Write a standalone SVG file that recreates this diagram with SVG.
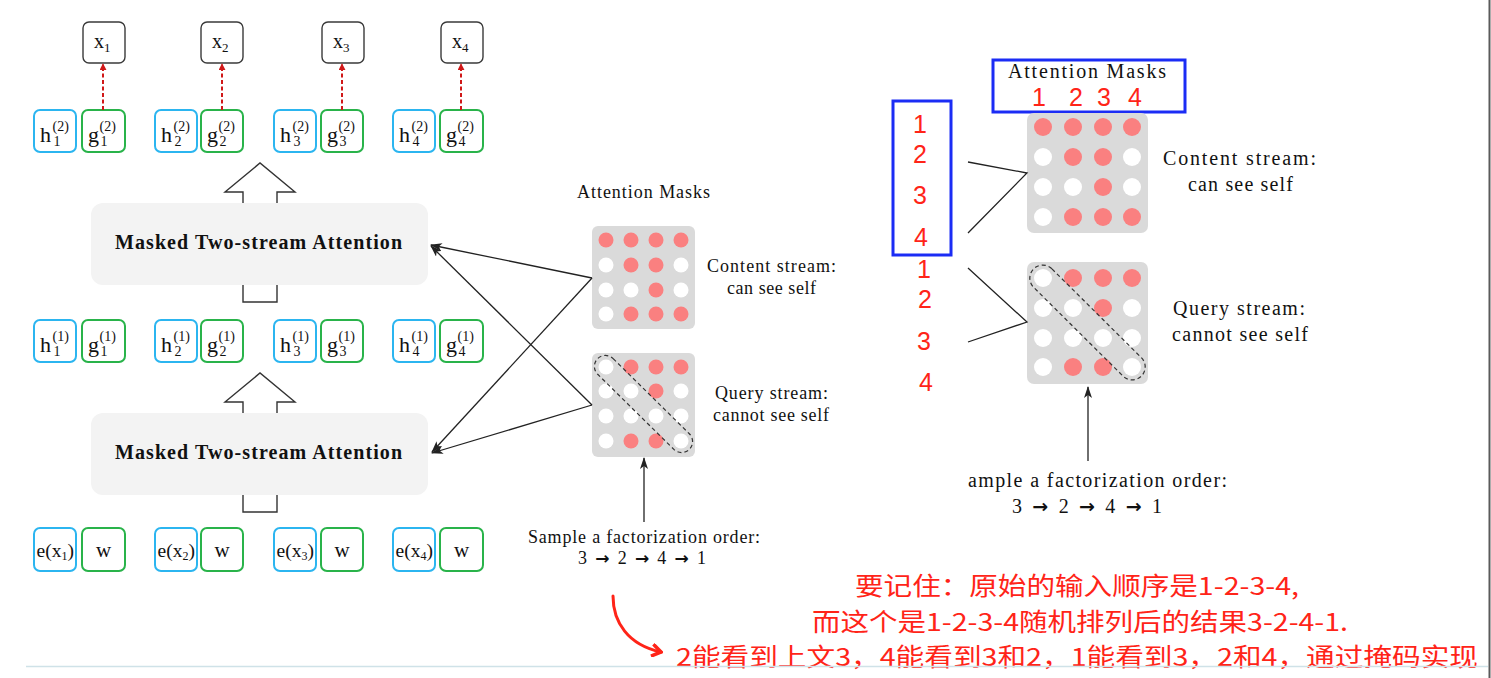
<svg xmlns="http://www.w3.org/2000/svg" width="1491" height="678" viewBox="0 0 1491 678">
<defs>
<style>
.bx{fill:#fff;stroke:#3a3a3a;stroke-width:1.4}
.hb{fill:#fff;stroke:#2bb5f0;stroke-width:2}
.gb{fill:#fff;stroke:#29b34a;stroke-width:2}
.m{font-family:"Liberation Serif",serif;fill:#111}
.att{fill:#f3f3f3}
.blk{fill:#fff;stroke:#333;stroke-width:1.4}
.mat{fill:#dadada}
.p{fill:#fa8080}
.w{fill:#fff}
.cap{fill:none;stroke:#333;stroke-width:1.2;stroke-dasharray:4 3}
.ln{fill:none;stroke:#222;stroke-width:1.3}
.rd{font-family:"Liberation Sans",Arial,sans-serif;fill:#ff2418;font-size:25px}
.cn{font-family:"Noto Sans CJK SC","Noto Sans",sans-serif;fill:#ff2418;font-size:24.5px}
.blue{fill:none;stroke:#1b2cf5;stroke-width:3}
.ar{font-family:"DejaVu Sans",sans-serif;font-weight:bold}
</style>
<marker id="ah" viewBox="0 0 12 8" refX="11" refY="4" markerWidth="12" markerHeight="8" markerUnits="userSpaceOnUse" orient="auto">
<path d="M0,0 L12,4 L0,8 L3,4 Z" fill="#222"/>
</marker>
<marker id="rah" viewBox="0 0 12 14" refX="10" refY="7" markerWidth="12" markerHeight="14" markerUnits="userSpaceOnUse" orient="auto">
<path d="M1,1 L10,7 L1,13" fill="none" stroke="#ff2418" stroke-width="3.5" stroke-linejoin="miter"/>
</marker>
<marker id="dah" viewBox="0 0 8 8" refX="7" refY="4" markerWidth="7" markerHeight="7" markerUnits="userSpaceOnUse" orient="auto">
<path d="M0,0 L8,4 L0,8 Z" fill="#d01818"/>
</marker>
</defs>
<rect width="1491" height="678" fill="#fff"/>

<!-- output tokens -->
<g id="x1"><rect class="bx" x="83" y="22" width="42" height="41" rx="6"/><text class="m" x="94" y="48" font-size="20">x<tspan font-size="13" dy="4">1</tspan></text></g>
<g id="x2"><rect class="bx" x="201" y="22" width="42" height="41" rx="6"/><text class="m" x="212" y="48" font-size="20">x<tspan font-size="13" dy="4">2</tspan></text></g>
<g id="x3"><rect class="bx" x="322" y="22" width="42" height="41" rx="6"/><text class="m" x="333" y="48" font-size="20">x<tspan font-size="13" dy="4">3</tspan></text></g>
<g id="x4"><rect class="bx" x="441" y="22" width="42" height="41" rx="6"/><text class="m" x="452" y="48" font-size="20">x<tspan font-size="13" dy="4">4</tspan></text></g>

<!-- layer 2 -->
<g id="h2_1"><rect class="hb" x="34" y="110" width="42" height="42" rx="6"/><text class="m" x="40" y="142" font-size="22">h</text><text class="m" x="52.5" y="131" font-size="14">(2)</text><text class="m" x="53.5" y="146" font-size="14">1</text></g>
<g id="g2_1"><rect class="gb" x="82" y="110" width="43" height="42" rx="6"/><text class="m" x="88" y="142" font-size="22">g</text><text class="m" x="99.5" y="131" font-size="14">(2)</text><text class="m" x="100.5" y="146" font-size="14">1</text></g>
<g id="h2_2"><rect class="hb" x="155" y="110" width="42" height="42" rx="6"/><text class="m" x="161" y="142" font-size="22">h</text><text class="m" x="173.5" y="131" font-size="14">(2)</text><text class="m" x="174.5" y="146" font-size="14">2</text></g>
<g id="g2_2"><rect class="gb" x="201" y="110" width="42" height="42" rx="6"/><text class="m" x="207" y="142" font-size="22">g</text><text class="m" x="218.5" y="131" font-size="14">(2)</text><text class="m" x="219.5" y="146" font-size="14">2</text></g>
<g id="h2_3"><rect class="hb" x="274" y="110" width="42" height="42" rx="6"/><text class="m" x="280" y="142" font-size="22">h</text><text class="m" x="292.5" y="131" font-size="14">(2)</text><text class="m" x="293.5" y="146" font-size="14">3</text></g>
<g id="g2_3"><rect class="gb" x="321" y="110" width="42" height="42" rx="6"/><text class="m" x="327" y="142" font-size="22">g</text><text class="m" x="338.5" y="131" font-size="14">(2)</text><text class="m" x="339.5" y="146" font-size="14">3</text></g>
<g id="h2_4"><rect class="hb" x="393" y="110" width="42" height="42" rx="6"/><text class="m" x="399" y="142" font-size="22">h</text><text class="m" x="411.5" y="131" font-size="14">(2)</text><text class="m" x="412.5" y="146" font-size="14">4</text></g>
<g id="g2_4"><rect class="gb" x="440" y="110" width="43" height="42" rx="6"/><text class="m" x="446" y="142" font-size="22">g</text><text class="m" x="457.5" y="131" font-size="14">(2)</text><text class="m" x="458.5" y="146" font-size="14">4</text></g>

<!-- layer 1 -->
<g id="h1_1"><rect class="hb" x="34" y="320" width="42" height="42" rx="6"/><text class="m" x="40" y="352" font-size="22">h</text><text class="m" x="52.5" y="341" font-size="14">(1)</text><text class="m" x="53.5" y="356" font-size="14">1</text></g>
<g id="g1_1"><rect class="gb" x="82" y="320" width="43" height="42" rx="6"/><text class="m" x="88" y="352" font-size="22">g</text><text class="m" x="99.5" y="341" font-size="14">(1)</text><text class="m" x="100.5" y="356" font-size="14">1</text></g>
<g id="h1_2"><rect class="hb" x="155" y="320" width="42" height="42" rx="6"/><text class="m" x="161" y="352" font-size="22">h</text><text class="m" x="173.5" y="341" font-size="14">(1)</text><text class="m" x="174.5" y="356" font-size="14">2</text></g>
<g id="g1_2"><rect class="gb" x="201" y="320" width="42" height="42" rx="6"/><text class="m" x="207" y="352" font-size="22">g</text><text class="m" x="218.5" y="341" font-size="14">(1)</text><text class="m" x="219.5" y="356" font-size="14">2</text></g>
<g id="h1_3"><rect class="hb" x="274" y="320" width="42" height="42" rx="6"/><text class="m" x="280" y="352" font-size="22">h</text><text class="m" x="292.5" y="341" font-size="14">(1)</text><text class="m" x="293.5" y="356" font-size="14">3</text></g>
<g id="g1_3"><rect class="gb" x="321" y="320" width="42" height="42" rx="6"/><text class="m" x="327" y="352" font-size="22">g</text><text class="m" x="338.5" y="341" font-size="14">(1)</text><text class="m" x="339.5" y="356" font-size="14">3</text></g>
<g id="h1_4"><rect class="hb" x="393" y="320" width="42" height="42" rx="6"/><text class="m" x="399" y="352" font-size="22">h</text><text class="m" x="411.5" y="341" font-size="14">(1)</text><text class="m" x="412.5" y="356" font-size="14">4</text></g>
<g id="g1_4"><rect class="gb" x="440" y="320" width="43" height="42" rx="6"/><text class="m" x="446" y="352" font-size="22">g</text><text class="m" x="457.5" y="341" font-size="14">(1)</text><text class="m" x="458.5" y="356" font-size="14">4</text></g>

<!-- input layer -->
<g id="e1"><rect class="hb" x="34" y="528" width="42" height="43" rx="6"/><text class="m" x="36.5" y="557" font-size="19.5">e(x<tspan font-size="12" dy="3">1</tspan><tspan dy="-3">)</tspan></text></g>
<g id="w1"><rect class="gb" x="82" y="528" width="43" height="43" rx="6"/><text class="m" x="103.5" y="557" font-size="21" text-anchor="middle">w</text></g>
<g id="e2"><rect class="hb" x="155" y="528" width="42" height="43" rx="6"/><text class="m" x="157.5" y="557" font-size="19.5">e(x<tspan font-size="12" dy="3">2</tspan><tspan dy="-3">)</tspan></text></g>
<g id="w2"><rect class="gb" x="201" y="528" width="42" height="43" rx="6"/><text class="m" x="222" y="557" font-size="21" text-anchor="middle">w</text></g>
<g id="e3"><rect class="hb" x="274" y="528" width="42" height="43" rx="6"/><text class="m" x="276.5" y="557" font-size="19.5">e(x<tspan font-size="12" dy="3">3</tspan><tspan dy="-3">)</tspan></text></g>
<g id="w3"><rect class="gb" x="321" y="528" width="42" height="43" rx="6"/><text class="m" x="342" y="557" font-size="21" text-anchor="middle">w</text></g>
<g id="e4"><rect class="hb" x="393" y="528" width="42" height="43" rx="6"/><text class="m" x="395.5" y="557" font-size="19.5">e(x<tspan font-size="12" dy="3">4</tspan><tspan dy="-3">)</tspan></text></g>
<g id="w4"><rect class="gb" x="440" y="528" width="43" height="43" rx="6"/><text class="m" x="461.5" y="557" font-size="21" text-anchor="middle">w</text></g>

<!-- block arrows -->
<g id="blockArrows">
<polyline class="blk" points="243,204 243,192 225,192 260,163 295,192 277,192 277,204"/>
<polyline class="blk" points="243,284 243,302 277,302 277,284"/>
<polyline class="blk" points="243,414 243,402 225,402 260,373 295,402 277,402 277,414"/>
<polyline class="blk" points="243,494 243,512 277,512 277,494"/>
</g>

<g id="attn2"><rect class="att" x="91" y="203" width="337" height="82" rx="12"/><text class="m" x="115" y="249" font-size="20" font-weight="bold" textLength="287" lengthAdjust="spacing">Masked Two-stream Attention</text></g>
<g id="attn1"><rect class="att" x="91" y="413" width="337" height="82" rx="12"/><text class="m" x="115" y="459" font-size="20" font-weight="bold" textLength="287" lengthAdjust="spacing">Masked Two-stream Attention</text></g>

<!-- left masks -->
<g id="maskTitleL"><text class="m" x="577" y="198" font-size="18" textLength="133" lengthAdjust="spacing">Attention Masks</text></g>
<g id="contentL">
<rect class="mat" x="592" y="226" width="103" height="103" rx="6"/>
<circle class="p" cx="606" cy="240" r="7.5"/><circle class="p" cx="631" cy="240" r="7.5"/><circle class="p" cx="656" cy="240" r="7.5"/><circle class="p" cx="681" cy="240" r="7.5"/>
<circle class="w" cx="606" cy="265" r="7.5"/><circle class="p" cx="631" cy="265" r="7.5"/><circle class="p" cx="656" cy="265" r="7.5"/><circle class="w" cx="681" cy="265" r="7.5"/>
<circle class="w" cx="606" cy="290" r="7.5"/><circle class="w" cx="631" cy="290" r="7.5"/><circle class="p" cx="656" cy="290" r="7.5"/><circle class="w" cx="681" cy="290" r="7.5"/>
<circle class="w" cx="606" cy="314" r="7.5"/><circle class="p" cx="631" cy="314" r="7.5"/><circle class="p" cx="656" cy="314" r="7.5"/><circle class="p" cx="681" cy="314" r="7.5"/>
<text class="m" x="707" y="272" font-size="18" textLength="129" lengthAdjust="spacing">Content stream:</text>
<text class="m" x="727" y="294" font-size="18" textLength="89" lengthAdjust="spacing">can see self</text>
</g>
<g id="queryL">
<rect class="mat" x="592" y="353" width="103" height="104" rx="6"/>
<circle class="w" cx="606" cy="367" r="7.5"/><circle class="p" cx="631" cy="367" r="7.5"/><circle class="p" cx="656" cy="367" r="7.5"/><circle class="p" cx="681" cy="367" r="7.5"/>
<circle class="w" cx="606" cy="391" r="7.5"/><circle class="w" cx="631" cy="391" r="7.5"/><circle class="p" cx="656" cy="391" r="7.5"/><circle class="w" cx="681" cy="391" r="7.5"/>
<circle class="w" cx="606" cy="416" r="7.5"/><circle class="w" cx="631" cy="416" r="7.5"/><circle class="w" cx="656" cy="416" r="7.5"/><circle class="w" cx="681" cy="416" r="7.5"/>
<circle class="w" cx="606" cy="441" r="7.5"/><circle class="p" cx="631" cy="441" r="7.5"/><circle class="p" cx="656" cy="441" r="7.5"/><circle class="w" cx="681" cy="441" r="7.5"/>
<rect class="cap" x="-64.5" y="-11" width="129" height="22" rx="11" transform="translate(643.5,404) rotate(44.6)"/>
<text class="m" x="715" y="399" font-size="18" textLength="113" lengthAdjust="spacing">Query stream:</text>
<text class="m" x="713" y="421" font-size="18" textLength="116" lengthAdjust="spacing">cannot see self</text>
</g>
<g id="orderL">
<text class="m" x="528" y="543" font-size="18" textLength="232" lengthAdjust="spacing">Sample a factorization order:</text>
<text class="m" x="578" y="564" font-size="18" textLength="128" lengthAdjust="spacing">3 <tspan class="ar" font-size="17">→</tspan> 2 <tspan class="ar" font-size="17">→</tspan> 4 <tspan class="ar" font-size="17">→</tspan> 1</text>
</g>

<!-- right masks -->
<g id="maskTitleR">
<rect class="blue" x="993" y="60" width="192" height="52"/>
<text class="m" x="1008" y="78" font-size="20" textLength="158" lengthAdjust="spacing">Attention Masks</text>
<text class="rd" x="1039" y="106" text-anchor="middle">1</text>
<text class="rd" x="1076" y="106" text-anchor="middle">2</text>
<text class="rd" x="1104" y="106" text-anchor="middle">3</text>
<text class="rd" x="1135" y="106" text-anchor="middle">4</text>
</g>
<g id="rowLabelsR">
<rect class="blue" x="893" y="101" width="58" height="154"/>
<text class="rd" x="920" y="133" text-anchor="middle">1</text>
<text class="rd" x="920" y="163" text-anchor="middle">2</text>
<text class="rd" x="920" y="204" text-anchor="middle">3</text>
<text class="rd" x="921" y="246" text-anchor="middle">4</text>
<text class="rd" x="924" y="278" text-anchor="middle">1</text>
<text class="rd" x="925" y="308" text-anchor="middle">2</text>
<text class="rd" x="924" y="350" text-anchor="middle">3</text>
<text class="rd" x="926" y="391" text-anchor="middle">4</text>
</g>
<g id="contentR">
<rect class="mat" x="1027" y="113" width="121" height="120" rx="7"/>
<circle class="p" cx="1043" cy="127" r="9"/><circle class="p" cx="1073" cy="127" r="9"/><circle class="p" cx="1103" cy="127" r="9"/><circle class="p" cx="1132" cy="127" r="9"/>
<circle class="w" cx="1043" cy="157" r="9"/><circle class="p" cx="1073" cy="157" r="9"/><circle class="p" cx="1103" cy="157" r="9"/><circle class="w" cx="1132" cy="157" r="9"/>
<circle class="w" cx="1043" cy="187" r="9"/><circle class="w" cx="1073" cy="187" r="9"/><circle class="p" cx="1103" cy="187" r="9"/><circle class="w" cx="1132" cy="187" r="9"/>
<circle class="w" cx="1043" cy="217" r="9"/><circle class="p" cx="1073" cy="217" r="9"/><circle class="p" cx="1103" cy="217" r="9"/><circle class="p" cx="1132" cy="217" r="9"/>
<text class="m" x="1163" y="165" font-size="20" textLength="153" lengthAdjust="spacing">Content stream:</text>
<text class="m" x="1188" y="191" font-size="20" textLength="105" lengthAdjust="spacing">can see self</text>
</g>
<g id="queryR">
<rect class="mat" x="1027" y="262" width="121" height="122" rx="7"/>
<circle class="w" cx="1043" cy="278" r="9"/><circle class="p" cx="1073" cy="278" r="9"/><circle class="p" cx="1103" cy="278" r="9"/><circle class="p" cx="1132" cy="278" r="9"/>
<circle class="w" cx="1043" cy="308" r="9"/><circle class="w" cx="1073" cy="308" r="9"/><circle class="p" cx="1103" cy="308" r="9"/><circle class="w" cx="1132" cy="308" r="9"/>
<circle class="w" cx="1043" cy="338" r="9"/><circle class="w" cx="1073" cy="338" r="9"/><circle class="w" cx="1103" cy="338" r="9"/><circle class="w" cx="1132" cy="338" r="9"/>
<circle class="w" cx="1043" cy="367" r="9"/><circle class="p" cx="1073" cy="367" r="9"/><circle class="p" cx="1103" cy="367" r="9"/><circle class="w" cx="1132" cy="367" r="9"/>
<rect class="cap" x="-76" y="-13" width="152" height="26" rx="13" transform="translate(1087.5,322.5) rotate(44.8)"/>
<text class="m" x="1173" y="315" font-size="20" textLength="132" lengthAdjust="spacing">Query stream:</text>
<text class="m" x="1172" y="341" font-size="20" textLength="136" lengthAdjust="spacing">cannot see self</text>
</g>
<g id="orderR">
<text class="m" x="968" y="487" font-size="20" textLength="259" lengthAdjust="spacing">ample a factorization order:</text>
<text class="m" x="1012" y="513" font-size="20" textLength="150" lengthAdjust="spacing">3 <tspan class="ar" font-size="19">→</tspan> 2 <tspan class="ar" font-size="19">→</tspan> 4 <tspan class="ar" font-size="19">→</tspan> 1</text>
</g>

<!-- note -->
<g id="note">
<text class="cn" x="855" y="595" textLength="444" lengthAdjust="spacingAndGlyphs">要记住：原始的输入顺序是1-2-3-4,</text>
<text class="cn" x="812" y="631" textLength="536" lengthAdjust="spacingAndGlyphs">而这个是1-2-3-4随机排列后的结果3-2-4-1.</text>
<text class="cn" x="676" y="666" textLength="802" lengthAdjust="spacingAndGlyphs">2能看到上文3，4能看到3和2，1能看到3，2和4，通过掩码实现</text>
</g>

<!-- connectors -->
<g id="connectors">
<line x1="103" y1="110" x2="103" y2="64" stroke="#d01818" stroke-width="2" stroke-dasharray="4 2.5" marker-end="url(#dah)"/>
<line x1="222" y1="110" x2="222" y2="64" stroke="#d01818" stroke-width="2" stroke-dasharray="4 2.5" marker-end="url(#dah)"/>
<line x1="342" y1="110" x2="342" y2="64" stroke="#d01818" stroke-width="2" stroke-dasharray="4 2.5" marker-end="url(#dah)"/>
<line x1="461" y1="110" x2="461" y2="64" stroke="#d01818" stroke-width="2" stroke-dasharray="4 2.5" marker-end="url(#dah)"/>
<line class="ln" x1="592" y1="278" x2="431" y2="245" marker-end="url(#ah)"/>
<line class="ln" x1="592" y1="278" x2="432" y2="452" marker-end="url(#ah)"/>
<line class="ln" x1="592" y1="405" x2="431" y2="246" marker-end="url(#ah)"/>
<line class="ln" x1="592" y1="405" x2="432" y2="453" marker-end="url(#ah)"/>
<line class="ln" x1="644" y1="522" x2="644" y2="458" marker-end="url(#ah)"/>
<polyline class="ln" points="968,162 1027,173 968,233"/>
<polyline class="ln" points="968,268 1027,322 968,342"/>
<line class="ln" x1="1088" y1="461" x2="1088" y2="387" marker-end="url(#ah)"/>
<path d="M613,596 C613,622 628,645 661,652" fill="none" stroke="#ff2418" stroke-width="3" stroke-linecap="round" marker-end="url(#rah)"/>
</g>

<g id="frame">
<line x1="26" y1="666.5" x2="1488" y2="666.5" stroke="#cfe2e8" stroke-width="1.5"/>
<line x1="1489.5" y1="0" x2="1489.5" y2="678" stroke="#5a5a5a" stroke-width="2"/>
</g>
</svg>
